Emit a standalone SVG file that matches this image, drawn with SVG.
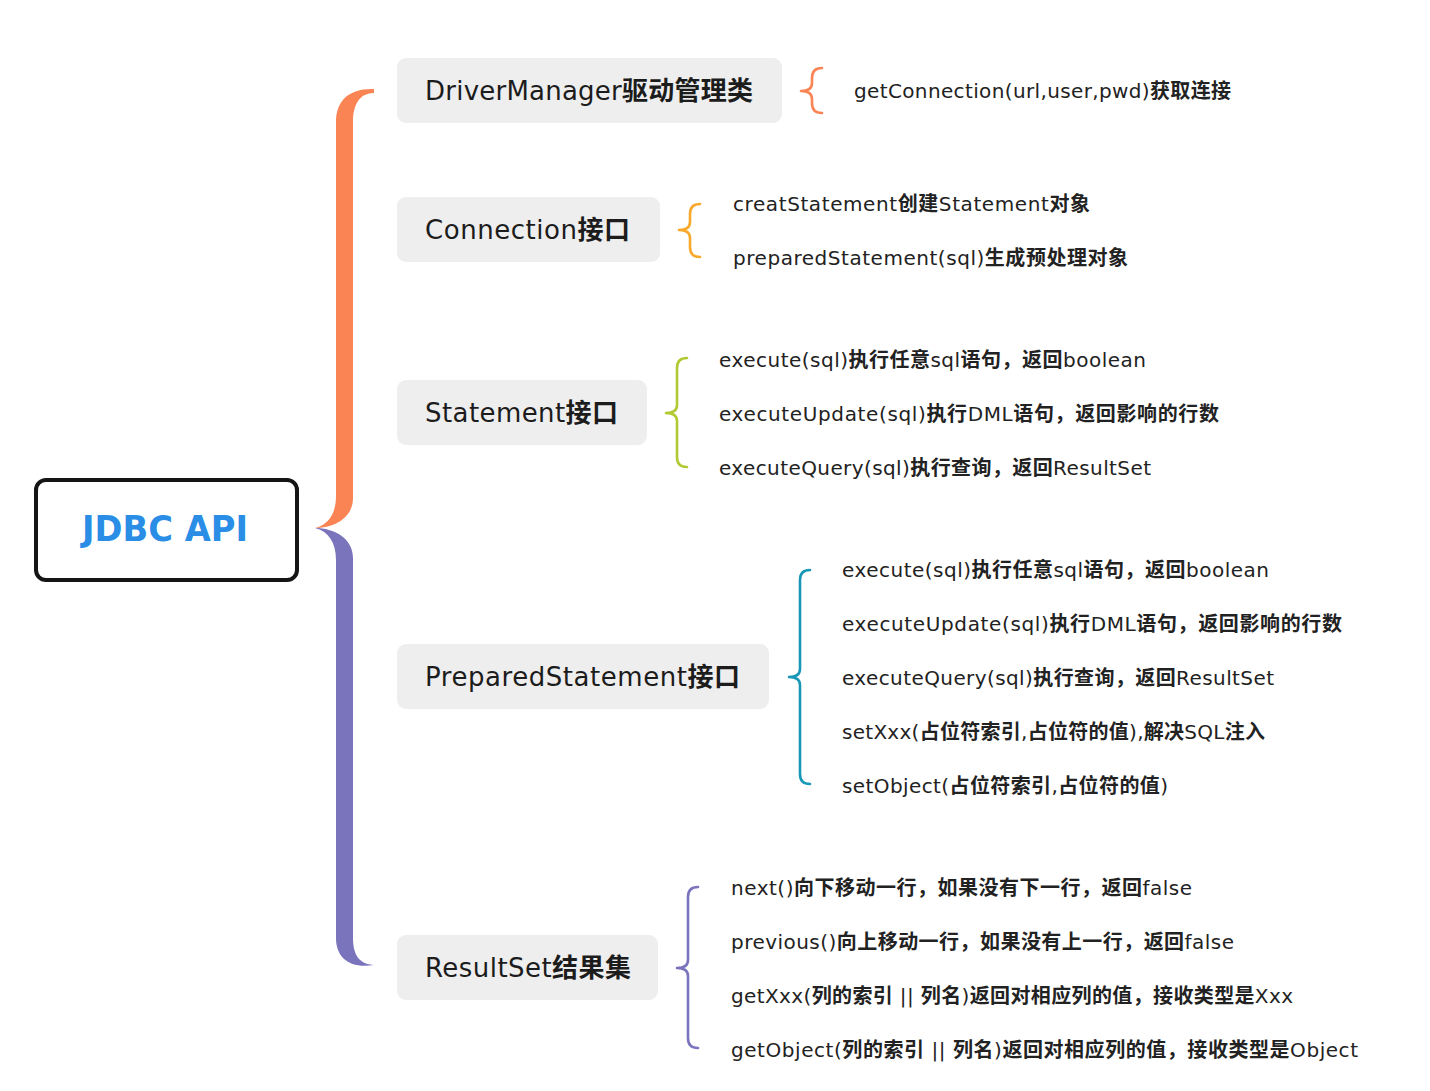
<svg xmlns="http://www.w3.org/2000/svg" width="1430" height="1091" viewBox="0 0 1430 1091">
<style>
text{font-family:"DejaVu Sans","Noto Sans CJK SC",sans-serif;fill:#222}
.node rect.box{fill:#eeeeee;stroke:none}
.lbl{font-size:26px;fill:#1c1c1c}
.leaf{font-size:20px}
.b{font-weight:bold}
.br{fill:none;stroke-width:2.6;stroke-linecap:round;stroke-linejoin:round}
</style>
<rect width="1430" height="1091" fill="#ffffff"/>
<g id="connectors">
<path d="M374,89 C350,88 336,100 336,122 L336,496 C336,514 328,525 315,528 C334,528 353,518 353,498 L353,122 C353,104 360,93 374,93 Z" fill="#fb8455"/>
<path d="M315,528 C334,528 353,538 353,558 L353,938 C353,956 360,964 374,965 C350,969 336,958 336,938 L336,560 C336,542 328,531 315,528 Z" fill="#7a74bc"/>
<path class="br" stroke="#fb8455" d="M822,68 Q812,68 812,78 L812,83 Q812,91 801,91 Q812,91 812,99 L812,103 Q812,113 822,113"/>
<path class="br" stroke="#f7a92c" d="M700,204 Q690,204 690,214 L690,222 Q690,230 679,230 Q690,230 690,238 L690,247 Q690,257 700,257"/>
<path class="br" stroke="#b3c934" d="M687,358 Q677,358 677,368 L677,405 Q677,413 666,413 Q677,413 677,421 L677,457 Q677,467 687,467"/>
<path class="br" stroke="#1898b6" d="M810,570 Q800,570 800,580 L800,669 Q800,677 789,677 Q800,677 800,685 L800,774 Q800,784 810,784"/>
<path class="br" stroke="#7a74bc" d="M698,887 Q688,887 688,897 L688,960 Q688,968 677,968 Q688,968 688,976 L688,1038 Q688,1048 698,1048"/>
</g>
<g id="root" class="node">
<rect x="36" y="480" width="261" height="100" rx="10" fill="#ffffff" stroke="#151515" stroke-width="4"/>
<text x="165" y="541" text-anchor="middle" font-size="36" font-weight="bold" style="fill:#2a8de6" textLength="166" lengthAdjust="spacingAndGlyphs">JDBC API</text>
</g>
<g id="n-driver" class="node">
<rect class="box" x="397" y="58" width="385" height="65" rx="9"/>
<text class="lbl" x="425" y="100" textLength="328" lengthAdjust="spacing">DriverManager<tspan class="b">驱动管理类</tspan></text>
</g>
<g id="n-connection" class="node">
<rect class="box" x="397" y="197" width="263" height="65" rx="9"/>
<text class="lbl" x="425" y="239" textLength="205" lengthAdjust="spacing">Connection<tspan class="b">接口</tspan></text>
</g>
<g id="n-statement" class="node">
<rect class="box" x="397" y="380" width="250" height="65" rx="9"/>
<text class="lbl" x="425" y="422" textLength="193" lengthAdjust="spacing">Statement<tspan class="b">接口</tspan></text>
</g>
<g id="n-prepared" class="node">
<rect class="box" x="397" y="644" width="372" height="65" rx="9"/>
<text class="lbl" x="425" y="686" textLength="315" lengthAdjust="spacing">PreparedStatement<tspan class="b">接口</tspan></text>
</g>
<g id="n-resultset" class="node">
<rect class="box" x="397" y="935" width="261" height="65" rx="9"/>
<text class="lbl" x="425" y="977" textLength="206" lengthAdjust="spacing">ResultSet<tspan class="b">结果集</tspan></text>
</g>
<g id="leaf-driver" class="node">
<text class="leaf" x="854" y="98" textLength="377" lengthAdjust="spacing">getConnection(url,user,pwd)<tspan class="b">获取连接</tspan></text>
</g>
<g id="leaf-connection" class="node">
<text class="leaf" x="733" y="211" textLength="357" lengthAdjust="spacing">creatStatement<tspan class="b">创建</tspan>Statement<tspan class="b">对象</tspan></text>
<text class="leaf" x="733" y="265" textLength="395" lengthAdjust="spacing">preparedStatement(sql)<tspan class="b">生成预处理对象</tspan></text>
</g>
<g id="leaf-statement" class="node">
<text class="leaf" x="719" y="367" textLength="427" lengthAdjust="spacing">execute(sql)<tspan class="b">执行任意</tspan>sql<tspan class="b">语句，返回</tspan>boolean</text>
<text class="leaf" x="719" y="421" textLength="500" lengthAdjust="spacing">executeUpdate(sql)<tspan class="b">执行</tspan>DML<tspan class="b">语句，返回影响的行数</tspan></text>
<text class="leaf" x="719" y="475" textLength="432" lengthAdjust="spacing">executeQuery(sql)<tspan class="b">执行查询，返回</tspan>ResultSet</text>
</g>
<g id="leaf-prepared" class="node">
<text class="leaf" x="842" y="577" textLength="427" lengthAdjust="spacing">execute(sql)<tspan class="b">执行任意</tspan>sql<tspan class="b">语句，返回</tspan>boolean</text>
<text class="leaf" x="842" y="631" textLength="500" lengthAdjust="spacing">executeUpdate(sql)<tspan class="b">执行</tspan>DML<tspan class="b">语句，返回影响的行数</tspan></text>
<text class="leaf" x="842" y="685" textLength="432" lengthAdjust="spacing">executeQuery(sql)<tspan class="b">执行查询，返回</tspan>ResultSet</text>
<text class="leaf" x="842" y="739" textLength="423" lengthAdjust="spacing">setXxx(<tspan class="b">占位符索引</tspan>,<tspan class="b">占位符的值</tspan>),<tspan class="b">解决</tspan>SQL<tspan class="b">注入</tspan></text>
<text class="leaf" x="842" y="793" textLength="326" lengthAdjust="spacing">setObject(<tspan class="b">占位符索引</tspan>,<tspan class="b">占位符的值</tspan>)</text>
</g>
<g id="leaf-resultset" class="node">
<text class="leaf" x="731" y="895" textLength="461" lengthAdjust="spacing">next()<tspan class="b">向下移动一行，如果没有下一行，返回</tspan>false</text>
<text class="leaf" x="731" y="949" textLength="503" lengthAdjust="spacing">previous()<tspan class="b">向上移动一行，如果没有上一行，返回</tspan>false</text>
<text class="leaf" x="731" y="1003" textLength="562" lengthAdjust="spacing">getXxx(<tspan class="b">列的索引</tspan> || <tspan class="b">列名</tspan>)<tspan class="b">返回对相应列的值，接收类型是</tspan>Xxx</text>
<text class="leaf" x="731" y="1057" textLength="627" lengthAdjust="spacing">getObject(<tspan class="b">列的索引</tspan> || <tspan class="b">列名</tspan>)<tspan class="b">返回对相应列的值，接收类型是</tspan>Object</text>
</g>
</svg>
